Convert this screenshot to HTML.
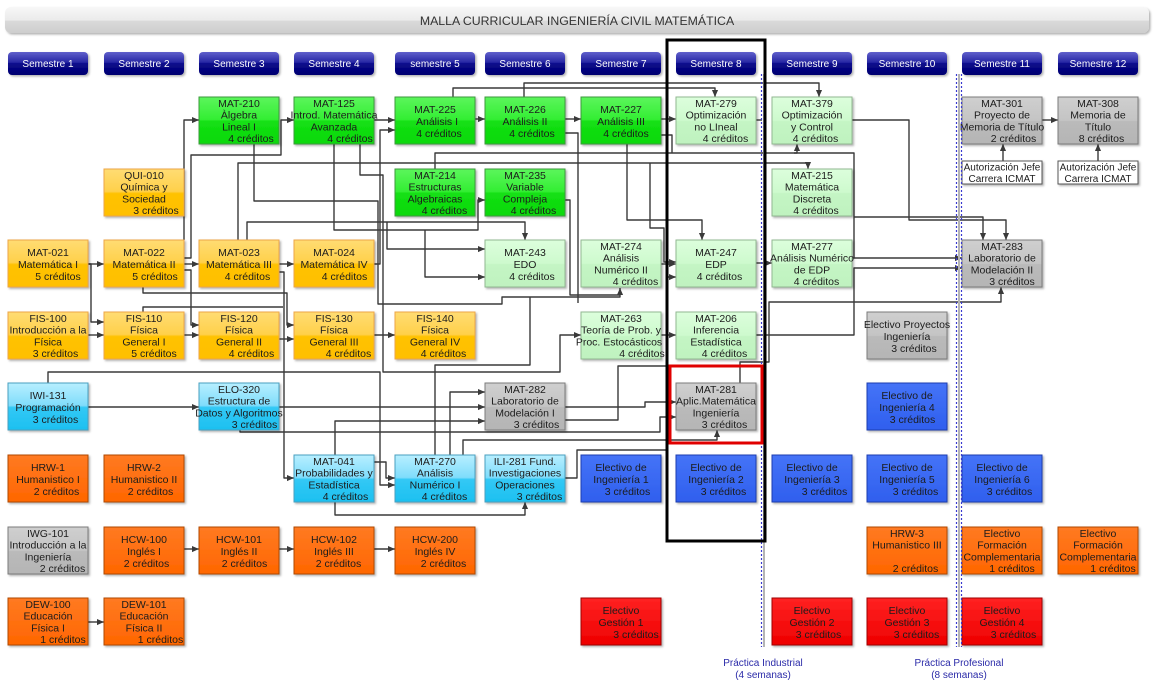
<!DOCTYPE html>
<html><head><meta charset="utf-8">
<style>
html,body{margin:0;padding:0;background:#fff;}
svg{display:block;}
.t{font-family:"Liberation Sans",Arial,sans-serif;font-size:10.5px;fill:#1c1c1c;text-anchor:middle;}
.s{font-size:10px;}
.h{font-family:"Liberation Sans",Arial,sans-serif;font-size:10px;fill:#fff;text-anchor:middle;}
.y{fill:url(#gY);stroke:#eea646;stroke-width:1;}
.g{fill:url(#gG);stroke:#3c9a3c;stroke-width:1;}
.l{fill:url(#gLG);stroke:#92b892;stroke-width:1;}
.c{fill:url(#gC);stroke:#4aa0c0;stroke-width:1;}
.r{fill:url(#gGr);stroke:#7c7c7c;stroke-width:1;}
.b{fill:url(#gB);stroke:#1e3eb0;stroke-width:1;}
.o{fill:url(#gO);stroke:#b04a00;stroke-width:1;}
.d{fill:url(#gR);stroke:#a00000;stroke-width:1;}
.w{fill:#fff;stroke:#555;stroke-width:1;}
.ln path{fill:none;stroke:#3a3a3a;stroke-width:1.4;stroke-linejoin:round;}
.ar path{marker-end:url(#ah);}
</style></head>
<body>
<svg width="1156" height="690" viewBox="0 0 1156 690" xmlns="http://www.w3.org/2000/svg">
<defs>
<linearGradient id="gY" x1="0" y1="0" x2="0" y2="1"><stop offset="0" stop-color="#ffdc73"/><stop offset="0.48" stop-color="#ffd04a"/><stop offset="0.52" stop-color="#ffc200"/><stop offset="1" stop-color="#ffbf00"/></linearGradient>
<linearGradient id="gG" x1="0" y1="0" x2="0" y2="1"><stop offset="0" stop-color="#5cf55c"/><stop offset="0.48" stop-color="#33ee33"/><stop offset="0.52" stop-color="#14e014"/><stop offset="1" stop-color="#0ad80a"/></linearGradient>
<linearGradient id="gLG" x1="0" y1="0" x2="0" y2="1"><stop offset="0" stop-color="#dcfedc"/><stop offset="0.5" stop-color="#cdfacd"/><stop offset="0.52" stop-color="#c4f5c4"/><stop offset="1" stop-color="#bff2bf"/></linearGradient>
<linearGradient id="gC" x1="0" y1="0" x2="0" y2="1"><stop offset="0" stop-color="#b8efff"/><stop offset="0.48" stop-color="#7fdcfb"/><stop offset="0.52" stop-color="#33c8f5"/><stop offset="1" stop-color="#1cc0f0"/></linearGradient>
<linearGradient id="gGr" x1="0" y1="0" x2="0" y2="1"><stop offset="0" stop-color="#cfcfcf"/><stop offset="0.5" stop-color="#c4c4c4"/><stop offset="0.52" stop-color="#bababa"/><stop offset="1" stop-color="#b5b5b5"/></linearGradient>
<linearGradient id="gB" x1="0" y1="0" x2="0" y2="1"><stop offset="0" stop-color="#4573f7"/><stop offset="1" stop-color="#2f5fee"/></linearGradient>
<linearGradient id="gO" x1="0" y1="0" x2="0" y2="1"><stop offset="0" stop-color="#ff7a22"/><stop offset="1" stop-color="#ff6600"/></linearGradient>
<linearGradient id="gR" x1="0" y1="0" x2="0" y2="1"><stop offset="0" stop-color="#ff2222"/><stop offset="1" stop-color="#ee0000"/></linearGradient>
<linearGradient id="gH" x1="0" y1="0" x2="0" y2="1"><stop offset="0" stop-color="#6060cc"/><stop offset="0.45" stop-color="#2828a4"/><stop offset="0.5" stop-color="#0a0a8c"/><stop offset="1" stop-color="#000070"/></linearGradient>
<linearGradient id="gT" x1="0" y1="0" x2="0" y2="1"><stop offset="0" stop-color="#f7f7f7"/><stop offset="0.5" stop-color="#ebebeb"/><stop offset="0.55" stop-color="#d9d9d9"/><stop offset="1" stop-color="#cdcdcd"/></linearGradient>
<filter id="sh" x="-10%" y="-10%" width="130%" height="140%"><feDropShadow dx="1.5" dy="1.5" stdDeviation="1" flood-color="#000" flood-opacity="0.3"/></filter>
<marker id="ah" viewBox="0 0 8 8" refX="8" refY="4" markerWidth="7" markerHeight="7" markerUnits="userSpaceOnUse" orient="auto"><path d="M0,0.5 L8,4 L0,7.5 z" fill="#3a3a3a"/></marker>
</defs>

<!-- Title -->
<rect x="5" y="7" width="1144" height="26" rx="6" fill="url(#gT)" filter="url(#sh)"/>
<text x="577" y="25" font-family="Liberation Sans, Arial, sans-serif" font-size="12.3" fill="#333" text-anchor="middle">MALLA CURRICULAR INGENIERÍA CIVIL MATEMÁTICA</text>

<!-- Semester headers -->
<g filter="url(#sh)">
<rect x="8" y="52" width="80" height="23" rx="4" fill="url(#gH)"/>
<rect x="104" y="52" width="80" height="23" rx="4" fill="url(#gH)"/>
<rect x="199" y="52" width="80" height="23" rx="4" fill="url(#gH)"/>
<rect x="294" y="52" width="80" height="23" rx="4" fill="url(#gH)"/>
<rect x="395" y="52" width="80" height="23" rx="4" fill="url(#gH)"/>
<rect x="485" y="52" width="80" height="23" rx="4" fill="url(#gH)"/>
<rect x="581" y="52" width="80" height="23" rx="4" fill="url(#gH)"/>
<rect x="676" y="52" width="80" height="23" rx="4" fill="url(#gH)"/>
<rect x="772" y="52" width="80" height="23" rx="4" fill="url(#gH)"/>
<rect x="867" y="52" width="80" height="23" rx="4" fill="url(#gH)"/>
<rect x="962" y="52" width="80" height="23" rx="4" fill="url(#gH)"/>
<rect x="1058" y="52" width="80" height="23" rx="4" fill="url(#gH)"/>
</g>
<text class="h" x="48" y="67">Semestre 1</text>
<text class="h" x="144" y="67">Semestre 2</text>
<text class="h" x="239" y="67">Semestre 3</text>
<text class="h" x="334" y="67">Semestre 4</text>
<text class="h" x="435" y="67">semestre 5</text>
<text class="h" x="525" y="67">Semestre 6</text>
<text class="h" x="621" y="67">Semestre 7</text>
<text class="h" x="716" y="67">Semestre 8</text>
<text class="h" x="812" y="67">Semestre 9</text>
<text class="h" x="907" y="67">Semestre 10</text>
<text class="h" x="1002" y="67">Semestre 11</text>
<text class="h" x="1098" y="67">Semestre 12</text>

<!-- Connectors -->
<g class="ln ar">
<path d="M88,264 H104"/>
<path d="M88,264 H91 V322 H104"/>
<path d="M88,335 H104"/>
<path d="M183,264 H199"/>
<path d="M184,240 V120 H199"/>
<path d="M183,258 H191 V155 H281 V120 H294"/>
<path d="M183,270 H191 V325 H199"/>
<path d="M143,287 V293 H287 V325 H294"/>
<path d="M183,335 H199"/>
<path d="M278,264 H294"/>
<path d="M278,272 H284 V478 H294"/>
<path d="M278,339 H294"/>
<path d="M374,335 H395"/>
<path d="M88,407 H199"/>
<path d="M48,383 V372 H380 V485 H395"/>
<path d="M278,407 H485"/>
<path d="M240,430 V432 H660 V417 H676"/>
<path d="M335,455 V421 H485"/>
<path d="M450,455 V392 H485"/>
<path d="M335,502 V515 H525 V502"/>
<path d="M374,462 H386 V478 H395"/>
<path d="M463,455 V440 H717 V430"/>
<path d="M565,407 H645 V402 H676"/>
<path d="M565,420 H618 V366 H667 V277 H676"/>
<path d="M374,120 H395"/>
<path d="M474,119 H485"/>
<path d="M565,119 H581"/>
<path d="M660,119 H676"/>
<path d="M453,97 V88 H715 V97"/>
<path d="M524,97 V83 H819 V97"/>
<path d="M852,120 H909 V220 H1006 V240"/>
<path d="M1042,120 H1058"/>
<path d="M1003,161 V144"/>
<path d="M1098,161 V144"/>
<path d="M238,240 V163 H808 V169"/>
<path d="M435,169 V153 H797 V144"/>
<path d="M254,144 V201 H378 V304 H502 V297 H620 V288"/>
<path d="M374,264 H380 V130 H395"/>
<path d="M334,144 V230 H478 V200 H485"/>
<path d="M247,240 V222 H525 V240"/>
<path d="M387,222 V249 H485"/>
<path d="M360,144 V175 H383 V372 H560 V335 H581"/>
<path d="M425,230 V277 H485"/>
<path d="M627,144 V220 H702 V240"/>
<path d="M660,264 H676"/>
<path d="M650,163 V228 H664 V262 H676"/>
<path d="M660,335 H676"/>
<path d="M756,263 H772"/>
<path d="M756,335 H854 V268 H962"/>
<path d="M794,153 H854 V258 H962"/>
<path d="M854,217 H983 V240"/>
<path d="M740,383 V362 H769 V302 H1001 V287"/>
<path d="M183,549 H199"/>
<path d="M278,549 H294"/>
<path d="M374,549 H395"/>
<path d="M88,622 H104"/>
</g>
<g class="ln">
<path d="M143,312 V307 H283"/>
<path d="M565,478 H577 V450 H666"/>
<path d="M565,200 H570 V295 H620"/>
<path d="M565,133 H578 V303"/>
<path d="M660,135 H672 V153"/>
<path d="M435,455 V365 H530 V297"/>
<path d="M756,120 H762"/>
</g>

<!-- Boxes -->
<g filter="url(#sh)">
<!-- row 0 -->
<rect class="g" x="199" y="97" width="80" height="47"/>
<rect class="g" x="294" y="97" width="80" height="47"/>
<rect class="g" x="395" y="97" width="80" height="47"/>
<rect class="g" x="485" y="97" width="80" height="47"/>
<rect class="g" x="581" y="97" width="80" height="47"/>
<rect class="l" x="676" y="97" width="80" height="47"/>
<rect class="l" x="772" y="97" width="80" height="47"/>
<rect class="r" x="962" y="97" width="80" height="47"/>
<rect class="r" x="1058" y="97" width="80" height="47"/>
<!-- row 1 -->
<rect class="y" x="104" y="169" width="80" height="47"/>
<rect class="g" x="395" y="169" width="80" height="47"/>
<rect class="g" x="485" y="169" width="80" height="47"/>
<rect class="l" x="772" y="169" width="80" height="47"/>
<rect class="w" x="962" y="161" width="80" height="23"/>
<rect class="w" x="1058" y="161" width="80" height="23"/>
<!-- row 2 -->
<rect class="y" x="8" y="240" width="80" height="47"/>
<rect class="y" x="104" y="240" width="80" height="47"/>
<rect class="y" x="199" y="240" width="80" height="47"/>
<rect class="y" x="294" y="240" width="80" height="47"/>
<rect class="l" x="485" y="240" width="80" height="47"/>
<rect class="l" x="581" y="240" width="80" height="47"/>
<rect class="l" x="676" y="240" width="80" height="47"/>
<rect class="l" x="772" y="240" width="80" height="47"/>
<rect class="r" x="962" y="240" width="80" height="47"/>
<!-- row 3 -->
<rect class="y" x="8" y="312" width="80" height="47"/>
<rect class="y" x="104" y="312" width="80" height="47"/>
<rect class="y" x="199" y="312" width="80" height="47"/>
<rect class="y" x="294" y="312" width="80" height="47"/>
<rect class="y" x="395" y="312" width="80" height="47"/>
<rect class="l" x="581" y="312" width="80" height="47"/>
<rect class="l" x="676" y="312" width="80" height="47"/>
<rect class="r" x="867" y="312" width="80" height="47"/>
<!-- row 4 -->
<rect class="c" x="8" y="383" width="80" height="47"/>
<rect class="c" x="199" y="383" width="80" height="47"/>
<rect class="r" x="485" y="383" width="80" height="47"/>
<rect class="r" x="676" y="383" width="80" height="47"/>
<rect class="b" x="867" y="383" width="80" height="47"/>
<!-- row 5 -->
<rect class="o" x="8" y="455" width="80" height="47"/>
<rect class="o" x="104" y="455" width="80" height="47"/>
<rect class="c" x="294" y="455" width="80" height="47"/>
<rect class="c" x="395" y="455" width="80" height="47"/>
<rect class="c" x="485" y="455" width="80" height="47"/>
<rect class="b" x="581" y="455" width="80" height="47"/>
<rect class="b" x="676" y="455" width="80" height="47"/>
<rect class="b" x="772" y="455" width="80" height="47"/>
<rect class="b" x="867" y="455" width="80" height="47"/>
<rect class="b" x="962" y="455" width="80" height="47"/>
<!-- row 6 -->
<rect class="r" x="8" y="527" width="80" height="47"/>
<rect class="o" x="104" y="527" width="80" height="47"/>
<rect class="o" x="199" y="527" width="80" height="47"/>
<rect class="o" x="294" y="527" width="80" height="47"/>
<rect class="o" x="395" y="527" width="80" height="47"/>
<rect class="o" x="867" y="527" width="80" height="47"/>
<rect class="o" x="962" y="527" width="80" height="47"/>
<rect class="o" x="1058" y="527" width="80" height="47"/>
<!-- row 7 -->
<rect class="o" x="8" y="598" width="80" height="47"/>
<rect class="o" x="104" y="598" width="80" height="47"/>
<rect class="d" x="581" y="598" width="80" height="47"/>
<rect class="d" x="772" y="598" width="80" height="47"/>
<rect class="d" x="867" y="598" width="80" height="47"/>
<rect class="d" x="962" y="598" width="80" height="47"/>
</g>

<!-- Box texts -->
<g class="t">
<!-- row 0 -->
<text x="239" y="107">MAT-210</text><text x="239" y="118.7">Àlgebra</text><text x="239" y="130.4">Lineal I</text><text x="251" y="142">4 créditos</text>
<text x="334" y="107">MAT-125</text><text x="334" y="118.7">Introd. Matemática</text><text x="334" y="130.4">Avanzada</text><text x="350" y="142">4 créditos</text>
<text x="435" y="113">MAT-225</text><text x="437" y="125">Análisis I</text><text x="439" y="137">4 créditos</text>
<text x="525" y="113">MAT-226</text><text x="525" y="125">Análisis II</text><text x="532" y="137">4 créditos</text>
<text x="621" y="113">MAT-227</text><text x="621" y="125">Análisis III</text><text x="626" y="137">4 créditos</text>
<text x="716" y="107">MAT-279</text><text x="716" y="118.7">Optimización</text><text x="716" y="130.4">no LIneal</text><text x="725.5" y="142">4 créditos</text>
<text x="812" y="107">MAT-379</text><text x="812" y="118.7">Optimización</text><text x="812" y="130.4">y Control</text><text x="815.5" y="142">4 créditos</text>
<text x="1002" y="107">MAT-301</text><text x="1002" y="118.7">Proyecto de</text><text x="1002" y="130.4">Memoria de Título</text><text x="1013.5" y="142">2 créditos</text>
<text x="1098" y="107">MAT-308</text><text x="1098" y="118.7">Memoria de</text><text x="1098" y="130.4">Título</text><text x="1101.5" y="142">8 créditos</text>
<!-- row 1 -->
<text x="144" y="179">QUI-010</text><text x="144" y="190.7">Química y</text><text x="144" y="202.4">Sociedad</text><text x="156" y="214">3 créditos</text>
<text x="435" y="179">MAT-214</text><text x="435" y="190.7">Estructuras</text><text x="435" y="202.4">Algebraicas</text><text x="444.5" y="214">4 créditos</text>
<text x="525" y="179">MAT-235</text><text x="525" y="190.7">Variable</text><text x="525" y="202.4">Compleja</text><text x="533.5" y="214">4 créditos</text>
<text x="812" y="179">MAT-215</text><text x="812" y="190.7">Matemática</text><text x="812" y="202.4">Discreta</text><text x="816" y="214">4 créditos</text>
<text class="s" x="1002" y="170.5">Autorización Jefe</text><text class="s" x="1002" y="182">Carrera ICMAT</text>
<text class="s" x="1098" y="170.5">Autorización Jefe</text><text class="s" x="1098" y="182">Carrera ICMAT</text>
<!-- row 2 -->
<text x="48" y="256">MAT-021</text><text x="48" y="268">Matemática I</text><text x="58" y="280">5 créditos</text>
<text x="144" y="256">MAT-022</text><text x="144" y="268">Matemática II</text><text x="155" y="280">5 créditos</text>
<text x="239" y="256">MAT-023</text><text x="239" y="268">Matemática III</text><text x="247.5" y="280">4 créditos</text>
<text x="334" y="256">MAT-024</text><text x="334" y="268">Matemática IV</text><text x="344.5" y="280">4 créditos</text>
<text x="525" y="256">MAT-243</text><text x="525" y="268">EDO</text><text x="532" y="280">4 créditos</text>
<text x="621" y="250">MAT-274</text><text x="621" y="261.7">Análisis</text><text x="621" y="273.4">Numérico II</text><text x="635.5" y="285">4 créditos</text>
<text x="716" y="256">MAT-247</text><text x="716" y="268">EDP</text><text x="719.5" y="280">4 créditos</text>
<text x="812" y="250">MAT-277</text><text x="812" y="261.7">Análisis Numérico</text><text x="812" y="273.4">de EDP</text><text x="816.5" y="285">4 créditos</text>
<text x="1002" y="250">MAT-283</text><text x="1002" y="261.7">Laboratorio de</text><text x="1002" y="273.4">Modelación II</text><text x="1012" y="285">3 créditos</text>
<!-- row 3 -->
<text x="48" y="322">FIS-100</text><text x="48" y="333.7">Introducción a la</text><text x="48" y="345.4">Física</text><text x="55.5" y="357">3 créditos</text>
<text x="144" y="322">FIS-110</text><text x="144" y="333.7">Física</text><text x="144" y="345.4">General I</text><text x="154" y="357">5 créditos</text>
<text x="239" y="322">FIS-120</text><text x="239" y="333.7">Física</text><text x="239" y="345.4">General II</text><text x="251.5" y="357">4 créditos</text>
<text x="334" y="322">FIS-130</text><text x="334" y="333.7">Física</text><text x="334" y="345.4">General III</text><text x="348.5" y="357">4 créditos</text>
<text x="435" y="322">FIS-140</text><text x="435" y="333.7">Física</text><text x="435" y="345.4">General IV</text><text x="443.5" y="357">4 créditos</text>
<text x="621" y="322">MAT-263</text><text x="621" y="333.7">Teoría de Prob. y</text><text x="619" y="345.4">Proc. Estocásticos</text><text x="642" y="357">4 créditos</text>
<text x="716" y="322">MAT-206</text><text x="716" y="333.7">Inferencia</text><text x="716" y="345.4">Estadística</text><text x="724.5" y="357">4 créditos</text>
<text x="907" y="328">Electivo Proyectos</text><text x="907" y="340">Ingeniería</text><text x="914" y="352">3 créditos</text>
<!-- row 4 -->
<text x="48" y="399">IWI-131</text><text x="48" y="411">Programación</text><text x="55.5" y="423">3 créditos</text>
<text x="239" y="393">ELO-320</text><text x="239" y="404.7">Estructura de</text><text x="239" y="416.4">Datos y Algoritmos</text><text x="254.5" y="428">3 créditos</text>
<text x="525" y="393">MAT-282</text><text x="525" y="404.7">Laboratorio de</text><text x="525" y="416.4">Modelación I</text><text x="536.5" y="428">3 créditos</text>
<text x="716" y="393">MAT-281</text><text x="716" y="404.7">Aplic.Matemática</text><text x="716" y="416.4">Ingeniería</text><text x="724.5" y="428">3 créditos</text>
<text x="907" y="399">Electivo de</text><text x="907" y="411">Ingeniería 4</text><text x="912.5" y="423">3 créditos</text>
<!-- row 5 -->
<text x="48" y="471">HRW-1</text><text x="48" y="483">Humanistico I</text><text x="56.5" y="495">2 créditos</text>
<text x="144" y="471">HRW-2</text><text x="144" y="483">Humanistico II</text><text x="150.5" y="495">2 créditos</text>
<text x="334" y="465">MAT-041</text><text x="334" y="476.7">Probabilidades y</text><text x="334" y="488.4">Estadística</text><text x="345.5" y="500">4 créditos</text>
<text x="435" y="465">MAT-270</text><text x="435" y="476.7">Análisis</text><text x="435" y="488.4">Numérico I</text><text x="444.5" y="500">4 créditos</text>
<text x="525" y="465">ILI-281 Fund.</text><text x="525" y="476.7">Investigaciones</text><text x="525" y="488.4">Operaciones</text><text x="539.5" y="500">3 créditos</text>
<text x="621" y="471">Electivo de</text><text x="621" y="483">Ingeniería 1</text><text x="627.5" y="495">3 créditos</text>
<text x="716" y="471">Electivo de</text><text x="716" y="483">Ingeniería 2</text><text x="723.5" y="495">3 créditos</text>
<text x="812" y="471">Electivo de</text><text x="812" y="483">Ingeniería 3</text><text x="824.5" y="495">3 créditos</text>
<text x="907" y="471">Electivo de</text><text x="907" y="483">Ingeniería 5</text><text x="915.5" y="495">3 créditos</text>
<text x="1002" y="471">Electivo de</text><text x="1002" y="483">Ingeniería 6</text><text x="1009.5" y="495">3 créditos</text>
<!-- row 6 -->
<text x="48" y="537">IWG-101</text><text x="48" y="548.7">Introducción a la</text><text x="48" y="560.4">Ingeniería</text><text x="62.5" y="572">2 créditos</text>
<text x="144" y="543">HCW-100</text><text x="144" y="555">Inglés I</text><text x="146.5" y="567">2 créditos</text>
<text x="239" y="543">HCW-101</text><text x="239" y="555">Inglés II</text><text x="244.5" y="567">2 créditos</text>
<text x="334" y="543">HCW-102</text><text x="334" y="555">Inglés III</text><text x="338.5" y="567">2 créditos</text>
<text x="435" y="543">HCW-200</text><text x="435" y="555">Inglés IV</text><text x="443.5" y="567">2 créditos</text>
<text x="907" y="537">HRW-3</text><text x="907" y="548.7">Humanistico III</text><text x="915.5" y="572">2 créditos</text>
<text x="1002" y="537">Electivo</text><text x="1002" y="548.7">Formación</text><text x="1002" y="560.4">Complementaria</text><text x="1012" y="572">1 créditos</text>
<text x="1098" y="537">Electivo</text><text x="1098" y="548.7">Formación</text><text x="1098" y="560.4">Complementaria</text><text x="1113" y="572">1 créditos</text>
<!-- row 7 -->
<text x="48" y="608">DEW-100</text><text x="48" y="619.7">Educación</text><text x="48" y="631.4">Física I</text><text x="63" y="643">1 créditos</text>
<text x="144" y="608">DEW-101</text><text x="144" y="619.7">Educación</text><text x="144" y="631.4">Física II</text><text x="160.5" y="643">1 créditos</text>
<text x="621" y="614">Electivo</text><text x="621" y="626">Gestión 1</text><text x="636" y="638">3 créditos</text>
<text x="812" y="614">Electivo</text><text x="812" y="626">Gestión 2</text><text x="818.5" y="638">3 créditos</text>
<text x="907" y="614">Electivo</text><text x="907" y="626">Gestión 3</text><text x="916.5" y="638">3 créditos</text>
<text x="1002" y="614">Electivo</text><text x="1002" y="626">Gestión 4</text><text x="1013.5" y="638">3 créditos</text>
</g>

<!-- Dotted practice lines -->
<line x1="764" y1="74" x2="764" y2="647" stroke="#b4b4b4" stroke-width="2"/>
<line x1="761.5" y1="74" x2="761.5" y2="647" stroke="#3a3ad0" stroke-width="1.2" stroke-dasharray="2,2"/>
<line x1="959" y1="74" x2="959" y2="647" stroke="#b4b4b4" stroke-width="2"/>
<line x1="956.5" y1="74" x2="956.5" y2="647" stroke="#3a3ad0" stroke-width="1.2" stroke-dasharray="2,2"/>
<line x1="961.5" y1="74" x2="961.5" y2="647" stroke="#3a3ad0" stroke-width="1.2" stroke-dasharray="2,2"/>

<!-- Highlight rectangles -->
<rect x="667" y="40" width="98" height="501" fill="none" stroke="#000" stroke-width="3"/>
<rect x="670" y="366" width="92" height="77" fill="none" stroke="#e00000" stroke-width="3"/>

<!-- Practice labels -->
<g font-family="Liberation Sans, Arial, sans-serif" font-size="10" fill="#2a2aa8" text-anchor="middle">
<text x="763" y="666">Práctica Industrial</text>
<text x="763" y="678">(4 semanas)</text>
<text x="959" y="666">Práctica Profesional</text>
<text x="959" y="678">(8 semanas)</text>
</g>
</svg>
</body></html>
